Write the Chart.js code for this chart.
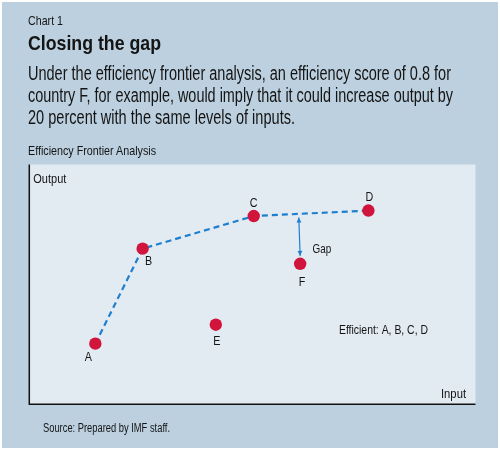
<!DOCTYPE html>
<html>
<head>
<meta charset="utf-8">
<script src="https://cdn.jsdelivr.net/npm/chart.js@4.4.1/dist/chart.umd.min.js"></script>
<style>
  html, body { margin:0; padding:0; background:#ffffff; }
  #page { position:relative; width:500px; height:450px; overflow:hidden; background:#ffffff; }
  #panel { position:absolute; left:2px; top:2px; width:496px; height:446px; background:#bcd0df; }
  .t { position:absolute; white-space:nowrap; color:#141414; font-family:"Liberation Sans", Arial, sans-serif; line-height:1.117; transform-origin:0 0; }
  #chartWrap { position:absolute; left:0; top:0; width:500px; height:450px; }
</style>
</head>
<body>
<div id="page">
  <div id="panel"></div>
  <div id="chartWrap"><canvas id="c" width="500" height="450"></canvas></div>
  <div class="t" data-x="28" data-b="25.3" data-fs="13.5" data-w="35">Chart 1</div>
  <div class="t" data-x="28" data-b="50.5" data-fs="20.5" data-w="133" style="font-weight:bold">Closing the gap</div>
  <div class="t" data-x="28" data-b="81" data-fs="19.5" data-w="423">Under the efficiency frontier analysis, an efficiency score of 0.8 for</div>
  <div class="t" data-x="28" data-b="102.7" data-fs="19.5" data-w="425">country F, for example, would imply that it could increase output by</div>
  <div class="t" data-x="28" data-b="124.3" data-fs="19.5" data-w="267">20 percent with the same levels of inputs.</div>
  <div class="t" data-x="28" data-b="155.5" data-fs="13" data-w="128">Efficiency Frontier Analysis</div>
  <div class="t" data-x="42.7" data-b="432.5" data-fs="12" data-w="127">Source: Prepared by IMF staff.</div>
</div>
<script>
// ---- Data ----
const countries = ['A', 'B', 'C', 'D', 'E', 'F'];
const inputX    = [14.8, 25.4, 50.3, 76.0, 41.8, 60.7];
const outputY   = [25.3, 64.9, 78.5, 80.8, 33.2, 58.6];
const frontierCountries = ['A', 'B', 'C', 'D'];
const gapX = [60.4, 60.7];
const gapY = [77.9, 61.9];
const gapLabel = 'Gap';
const efficientNote = 'Efficient: A, B, C, D';
const xAxisTitle = 'Input';
const yAxisTitle = 'Output';

// ---- Header text placement (condensed by horizontal scaling) ----
document.querySelectorAll('.t').forEach(el => {
  const fs = parseFloat(el.dataset.fs);
  el.style.fontSize = fs + 'px';
  el.style.left = el.dataset.x + 'px';
  el.style.top = (parseFloat(el.dataset.b) - 0.905 * fs) + 'px';
  const w = el.getBoundingClientRect().width;
  const target = parseFloat(el.dataset.w);
  el.style.transform = 'scaleX(' + (target / w) + ')';
});

// ---- Chart ----
const pointData = countries.map((c, i) => ({ x: inputX[i], y: outputY[i], label: c }));
const frontierData = frontierCountries.map(c => {
  const i = countries.indexOf(c);
  return { x: inputX[i], y: outputY[i] };
});
const gapData = gapX.map((x, i) => ({ x: x, y: gapY[i] }));

const BLUE = '#1f7fcf';
const RED = '#d0143c';
const TEXT = '#141414';
const FONT = '"Liberation Sans", Arial, sans-serif';

function fitText(ctx, text, x, y, align, size, opts) {
  ctx.save();
  ctx.font = size + 'px ' + FONT;
  ctx.fillStyle = TEXT;
  ctx.textBaseline = 'middle';
  ctx.textAlign = align;
  let sx = opts.scale || 1;
  if (opts.width) sx = opts.width / ctx.measureText(text).width;
  ctx.translate(x, y);
  ctx.scale(sx, 1);
  ctx.fillText(text, 0, 0);
  ctx.restore();
}

const labelOffsets = { A: [-7, 14], B: [6, 13], C: [0, -13], D: [1, -13], E: [1, 17], F: [2, 19] };

const framePlugin = {
  id: 'frame',
  beforeDatasetsDraw(chart) {
    const { ctx, chartArea: a } = chart;
    ctx.save();
    ctx.fillStyle = '#e2eaf2';
    ctx.fillRect(a.left, a.top, a.right - a.left, a.bottom - a.top);
    ctx.strokeStyle = '#111111';
    ctx.lineWidth = 1.5;
    ctx.beginPath();
    ctx.moveTo(a.left, a.top);
    ctx.lineTo(a.left, a.bottom);
    ctx.lineTo(a.right, a.bottom);
    ctx.stroke();
    ctx.restore();
  },
  afterDatasetsDraw(chart) {
    const { ctx, chartArea: a, scales } = chart;
    const xs = scales.x, ys = scales.y;
    // arrowheads on gap line
    const p0 = { x: xs.getPixelForValue(gapX[0]), y: ys.getPixelForValue(gapY[0]) };
    const p1 = { x: xs.getPixelForValue(gapX[1]), y: ys.getPixelForValue(gapY[1]) };
    function head(tip, from) {
      const ang = Math.atan2(tip.y - from.y, tip.x - from.x);
      const L = 5, W = 2.4;
      ctx.beginPath();
      ctx.moveTo(tip.x, tip.y);
      ctx.lineTo(tip.x - L * Math.cos(ang) + W * Math.sin(ang), tip.y - L * Math.sin(ang) - W * Math.cos(ang));
      ctx.lineTo(tip.x - L * Math.cos(ang) - W * Math.sin(ang), tip.y - L * Math.sin(ang) + W * Math.cos(ang));
      ctx.closePath();
      ctx.fill();
    }
    ctx.save();
    ctx.fillStyle = BLUE;
    head(p0, p1);
    head(p1, p0);
    ctx.restore();
    // point labels
    countries.forEach((c, i) => {
      const px = xs.getPixelForValue(inputX[i]);
      const py = ys.getPixelForValue(outputY[i]);
      const o = labelOffsets[c];
      fitText(ctx, c, px + o[0], py + o[1], 'center', 12.5, { scale: 0.86 });
    });
    // gap label, note, axis titles
    const fx = xs.getPixelForValue(inputX[5]);
    const fy = ys.getPixelForValue(outputY[5]);
    fitText(ctx, gapLabel, fx + 12.3, fy - 14, 'left', 13, { width: 18.7 });
    fitText(ctx, efficientNote, xs.getPixelForValue(69.4), ys.getPixelForValue(30.9), 'left', 13, { width: 89 });
    fitText(ctx, yAxisTitle, a.left + 4, a.top + 14.5, 'left', 13, { width: 33 });
    fitText(ctx, xAxisTitle, a.right - 9.5, a.bottom - 10, 'right', 13, { width: 25 });
  }
};

new Chart(document.getElementById('c'), {
  type: 'scatter',
  data: {
    datasets: [
      {
        label: 'Countries',
        data: pointData,
        pointRadius: 6.2,
        pointHoverRadius: 6.2,
        backgroundColor: RED,
        borderWidth: 0
      },
      {
        type: 'line',
        label: 'Efficiency frontier',
        data: frontierData,
        borderColor: BLUE,
        borderWidth: 2.2,
        borderDash: [6, 4],
        pointRadius: 0,
        fill: false,
        tension: 0
      },
      {
        type: 'line',
        label: 'Gap',
        data: gapData,
        borderColor: BLUE,
        borderWidth: 1.2,
        pointRadius: 0,
        fill: false
      }
    ]
  },
  options: {
    responsive: false,
    animation: false,
    layout: { padding: { left: 29.3, top: 164.5, right: 24.5, bottom: 45.7 } },
    scales: {
      x: { type: 'linear', min: 0, max: 100, display: false },
      y: { type: 'linear', min: 0, max: 100, display: false }
    },
    plugins: {
      legend: { display: false },
      tooltip: { enabled: false },
      title: { display: false }
    }
  },
  plugins: [framePlugin]
});
</script>
</body>
</html>
